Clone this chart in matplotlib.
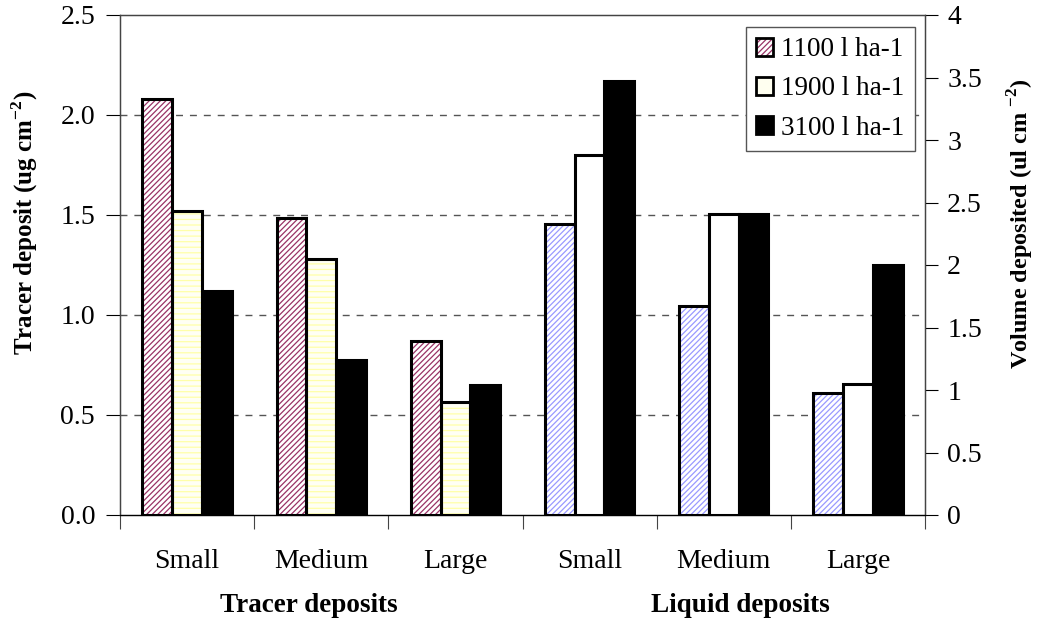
import numpy as np
import matplotlib
matplotlib.use('Agg')
import matplotlib.pyplot as plt
from matplotlib.patches import Patch
from matplotlib.legend_handler import HandlerTuple

plt.rcParams['font.family'] = 'Liberation Serif'
plt.rcParams['mathtext.fontset'] = 'custom'
plt.rcParams['mathtext.rm'] = 'Liberation Serif'
plt.rcParams['mathtext.bf'] = 'Liberation Serif:bold'
plt.rcParams['hatch.linewidth'] = 0.9

# data
sizes = ['Small', 'Medium', 'Large']
rates = ['1100 l ha-1', '1900 l ha-1', '3100 l ha-1']
tracer_1100 = [2.08, 1.485, 0.87]
tracer_1900 = [1.52, 1.28, 0.565]
tracer_3100 = [1.12, 0.775, 0.65]
liquid_1100 = [2.33, 1.67, 0.98]
liquid_1900 = [2.88, 2.41, 1.05]
liquid_3100 = [3.47, 2.41, 2.0]

fig = plt.figure(figsize=(10.38, 6.25), dpi=100)
ax = fig.add_axes([120/1038, 1 - 515/625, 805/1038, 500/625])
ax2 = ax.twinx()

w = 0.222
x_tr = np.arange(3)
x_lq = np.arange(3) + 3
edge_lw = 2.2

def hatched(axis, x, h, face, hatch, hcol):
    axis.bar(x, h, w, color=face, hatch=hatch, edgecolor=hcol, linewidth=0, zorder=2)
    axis.bar(x, h, w, facecolor='none', edgecolor='black', linewidth=edge_lw, zorder=3)

# tracer (left axis)
hatched(ax, x_tr - w, tracer_1100, 'white', '//////', '#993366')
hatched(ax, x_tr, tracer_1900, '#fffff4', '---', '#ffffa8')
ax.bar(x_tr + w, tracer_3100, w, color='black', edgecolor='black', linewidth=edge_lw, zorder=3)

# liquid (right axis)
hatched(ax2, x_lq - w, liquid_1100, 'white', '//////', '#9999ff')
ax2.bar(x_lq, liquid_1900, w, color='white', edgecolor='black', linewidth=edge_lw, zorder=3)
ax2.bar(x_lq + w, liquid_3100, w, color='black', edgecolor='black', linewidth=edge_lw, zorder=3)

ax.set_xlim(-0.5, 5.5)
ax.set_ylim(0, 2.5)
ax2.set_ylim(0, 4)
ax.set_yticks(np.arange(0, 2.51, 0.5))
ax.set_yticklabels(['%.1f' % v for v in np.arange(0, 2.51, 0.5)])
ax2.set_yticks(np.arange(0, 4.01, 0.5))
ax2.set_yticklabels(['%g' % v for v in np.arange(0, 4.01, 0.5)])

for v in [0.5, 1.0, 1.5, 2.0]:
    ax.axhline(v, color='#555555', linestyle=(0, (5, 5)), linewidth=1.0, zorder=1)

ax.set_xticks(np.arange(-0.5, 6.0, 1.0))
ax.set_xticklabels([])
ax.tick_params(axis='x', direction='out', length=10, width=0.8, color='#444444')
ax.tick_params(axis='y', direction='out', length=10, width=0.8, labelsize=20, colors='black', pad=8)
ax2.tick_params(axis='y', direction='out', length=9, width=0.8, labelsize=20, pad=7)

for sp in ax.spines.values():
    sp.set_color('#444444')
    sp.set_linewidth(0.9)
for sp in ax2.spines.values():
    sp.set_color('#444444')
    sp.set_linewidth(0.9)
ax2.spines['bottom'].set_color('black')

for i, lab in enumerate(sizes + sizes):
    ax.text(i, -0.23, lab, ha='center', va='center', fontsize=20)
fig.text(309/1038, 1 - 606/625, 'Tracer deposits', ha='center', va='center', fontsize=19.5, fontweight='bold')
fig.text(740/1038, 1 - 606/625, 'Liquid deposits', ha='center', va='center', fontsize=19.5, fontweight='bold')

ax.set_ylabel(r'Tracer deposit (ug cm$^{\mathbf{-2}}$)', fontsize=18, fontweight='bold')
ax.yaxis.set_label_coords((40 - 120) / 805, (515 - 223) / 500)
ax2.set_ylabel(r'Volume deposited (ul cm $^{\mathbf{-2}}$)', fontsize=17.5, fontweight='bold')
ax2.yaxis.set_label_coords((1006 - 120) / 805, (515 - 224) / 500)

handles = [
    (Patch(facecolor='white', hatch='//////', edgecolor='#993366', linewidth=0),
     Patch(facecolor='none', edgecolor='black', linewidth=2)),
    Patch(facecolor='#fffff0', edgecolor='black', linewidth=2),
    Patch(facecolor='black', edgecolor='black', linewidth=2),
]
leg = ax2.legend(handles, rates, loc='upper right', bbox_to_anchor=(0.988, 0.977),
                 fontsize=19.5, handlelength=0.62, handleheight=0.62, handletextpad=0.3,
                 labelspacing=0.52, borderpad=0.4, borderaxespad=0, fancybox=False, framealpha=1,
                 edgecolor='#555555', handler_map={tuple: HandlerTuple(ndivide=1)})
leg.get_frame().set_linewidth(1.0)
leg.set_zorder(10)

fig.savefig('out.png', dpi=100)
